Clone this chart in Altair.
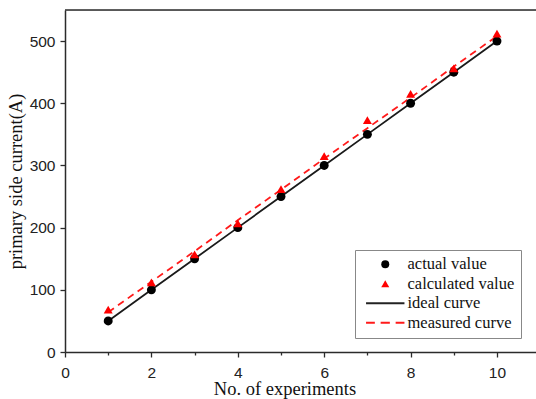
import altair as alt
import pandas as pd

experiments = [1, 2, 3, 4, 5, 6, 7, 8, 9, 10]
actual_value = [50, 100, 150, 200, 250, 300, 350, 400, 450, 500]
calculated_value = [68, 112, 157, 207, 262, 315, 373, 415, 456, 512]
ideal_curve = [50, 100, 150, 200, 250, 300, 350, 400, 450, 500]
measured_curve = [64, 113, 162, 212, 261, 311, 360, 409, 459, 508]

series_names = ["actual value", "calculated value", "ideal curve", "measured curve"]

points = pd.DataFrame({
    "x": experiments * 2,
    "y": actual_value + calculated_value,
    "series": [series_names[0]] * 10 + [series_names[1]] * 10,
})
ideal = pd.DataFrame({"x": experiments, "y": ideal_curve})
measured = pd.DataFrame({"x": experiments, "y": measured_curve})

SERIF = "Liberation Serif"
SANS = "Liberation Sans"
AXC = "#2b2b2b"

xscale = alt.Scale(domain=[0, 10.903], nice=False, zero=False)
yscale = alt.Scale(domain=[0, 550], nice=False)

xaxis = alt.Axis(
    values=list(range(0, 11)),
    labelExpr="datum.value % 2 === 0 ? datum.label : ''",
    tickSize={"condition": {"test": "datum.value % 2 === 0", "value": 5}, "value": 3},
    grid=False,
    title="No. of experiments",
    titleFont=SERIF, titleFontSize=18.5, titleFontWeight="normal", titleColor="#111",
    titleX=219.5, titleY=42.5, titleBaseline="alphabetic", titleAnchor="start", titleAlign="center",
    labelFont=SANS, labelFontSize=15.5, labelColor="#222", labelPadding=8,
    labelOverlap=False, labelFlush=False,
    domainColor=AXC, domainWidth=1.5, tickColor=AXC, tickWidth=1.3,
)
yaxis = alt.Axis(
    values=list(range(0, 551, 50)),
    labelExpr="datum.value % 100 === 0 ? datum.label : ''",
    tickSize={"condition": {"test": "datum.value % 100 === 0", "value": 5}, "value": 3},
    grid=False,
    title="primary side current(A)",
    titleFont=SERIF, titleFontSize=18.5, titleFontWeight="normal", titleColor="#111",
    titleAngle=270, titleX=-44, titleY=171, titleBaseline="alphabetic", titleAlign="center",
    titleAnchor="start",
    labelFont=SANS, labelFontSize=15.5, labelColor="#222", labelPadding=5,
    labelOverlap=False, labelFlush=False,
    domainColor=AXC, domainWidth=1.5, tickColor=AXC, tickWidth=1.3,
)

legend = alt.Legend(
    title=None,
    orient="none", legendX=290, legendY=240,
    labelFont=SERIF, labelFontSize=16.5, labelColor="#111",
    symbolSize=64, symbolOffset=16, labelOffset=14,
    rowPadding=2.5, padding=6,
    strokeColor="#888", fillColor="white",
    symbolStrokeColor=alt.ExprRef(expr="scale('color', datum.value)"),
    symbolStrokeWidth=alt.ExprRef(
        expr="datum.value === 'ideal curve' || datum.value === 'measured curve' ? 2 : 0"),
)

color_scale = alt.Scale(domain=series_names, range=["#000000", "#ff0000", "#222222", "#ff1a1a"])
shape_scale = alt.Scale(
    domain=series_names,
    range=["circle", "triangle-up", "M-4.8,0H4.8", "M-4.8,0H-2.6M-1.15,0H1.15M2.6,0H4.8"],
)

ideal_line = alt.Chart(ideal).mark_line(color="#1a1a1a", strokeWidth=1.8).encode(
    x=alt.X("x:Q", scale=xscale, axis=xaxis),
    y=alt.Y("y:Q", scale=yscale, axis=yaxis),
)
measured_line = alt.Chart(measured).mark_line(color="#ff1a1a", strokeWidth=1.8, strokeDash=[7, 5]).encode(
    x=alt.X("x:Q", scale=xscale),
    y=alt.Y("y:Q", scale=yscale),
)
pts = alt.Chart(points).mark_point(filled=True, opacity=1, size=80).encode(
    x=alt.X("x:Q", scale=xscale),
    y=alt.Y("y:Q", scale=yscale),
    color=alt.Color("series:N", scale=color_scale, legend=legend),
    shape=alt.Shape("series:N", scale=shape_scale, legend=legend),
)
top_border = alt.Chart(pd.DataFrame({"t": [550]})).mark_rule(color=AXC, strokeWidth=1.5).encode(
    y=alt.Y("t:Q", scale=yscale),
)

chart = alt.layer(top_border, measured_line, ideal_line, pts).properties(
    width=471, height=342,
    autosize=alt.AutoSizeParams(type="none"),
    padding={"left": 65, "top": 10, "right": 0, "bottom": 47},
).configure_view(stroke=None).configure(background="white")

chart.save("out.html", embed_options={"renderer": "svg", "actions": False})
